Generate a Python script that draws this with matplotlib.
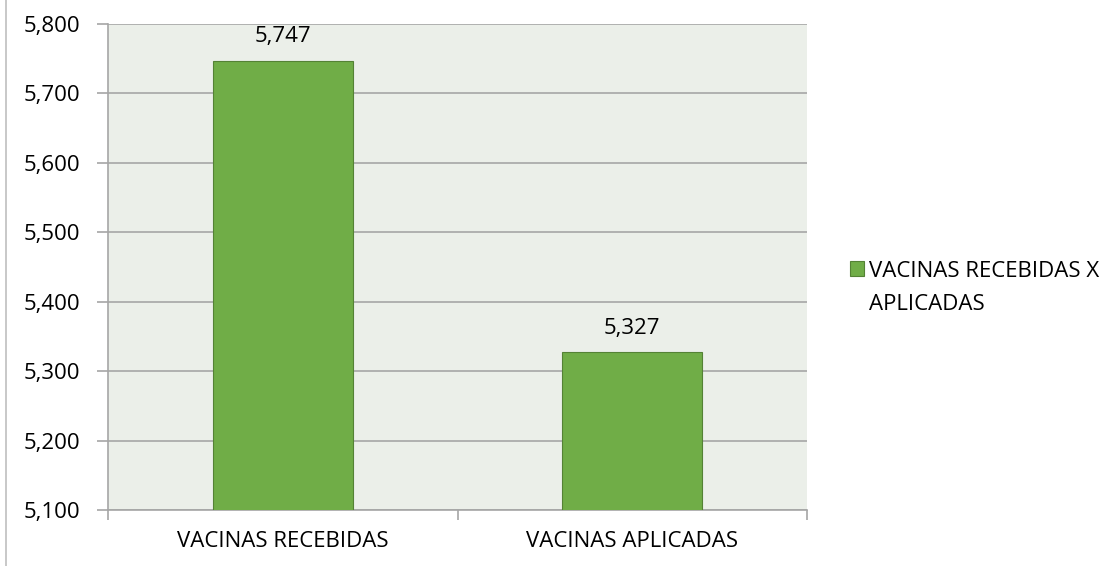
import numpy as np
import matplotlib.pyplot as plt
from matplotlib.ticker import FuncFormatter, FixedLocator
from matplotlib.lines import Line2D

categories = ['VACINAS RECEBIDAS', 'VACINAS APLICADAS']
values = [5747, 5327]
series_name = ['VACINAS RECEBIDAS X', 'APLICADAS']
yticks = [5100, 5200, 5300, 5400, 5500, 5600, 5700, 5800]

plt.rcParams['font.family'] = ['Open Sans', 'DejaVu Sans']
FS = 16

W, H = 1118, 566
fig = plt.figure(figsize=(W / 100, H / 100), dpi=100)
ax = fig.add_axes([108 / W, 1 - 510 / H, (807 - 108) / W, (510 - 24) / H])

bar_color = '#70AD47'
edge_color = '#548235'
grid_color = '#A6A6A6'

x = np.arange(len(categories))
bars = ax.bar(x, values, width=0.4, color=bar_color, edgecolor=edge_color, linewidth=0.8,
              label=series_name[0], zorder=3)

ax.set_facecolor('#EBEFE9')
ax.set_xlim(-0.5, len(categories) - 0.5)
ax.set_ylim(5100, 5800)
ax.set_yticks(yticks)
ax.yaxis.set_major_formatter(FuncFormatter(lambda v, p: f'{int(v):,}'))
ax.grid(axis='y', color=grid_color, linewidth=1.2, zorder=0)

# category labels centred, ticks between categories
ax.set_xticks(x)
ax.set_xticklabels(categories, fontsize=FS)
ax.tick_params(axis='x', length=0, pad=15)
ax.xaxis.set_minor_locator(FixedLocator([-0.5, 0.5, 1.5]))
ax.tick_params(axis='x', which='minor', length=7, color=grid_color, width=1.2)
ax.tick_params(axis='y', length=8, color=grid_color, width=1.2, labelsize=FS, pad=12)

for s in ['top', 'right']:
    ax.spines[s].set_visible(False)
ax.spines['left'].set_color(grid_color)
ax.spines['left'].set_linewidth(1.2)
ax.spines['bottom'].set_color(grid_color)
ax.spines['bottom'].set_linewidth(1.2)

for b, v in zip(bars, values):
    ax.annotate(f'{v:,}', (b.get_x() + b.get_width() / 2, v), xytext=(0, 10),
                textcoords='offset points', ha='center', va='bottom', fontsize=FS)

# legend: square aligned with the first line of the label, second line underneath
leg = fig.legend(loc='center left', bbox_to_anchor=(850 / W, 1 - 271 / H), frameon=False,
                 fontsize=FS, handlelength=0.65, handleheight=0.65, handletextpad=0.2,
                 borderaxespad=0, borderpad=0)
fig.canvas.draw()
t0 = leg.get_texts()[0].get_window_extent()
fig.text(t0.x0 / W, 1 - 310 / H, series_name[1], fontsize=FS, ha='left', va='baseline')

# left border of the chart frame
fig.add_artist(Line2D([6 / W, 6 / W], [0, 1], color='#BFBFBF', linewidth=1.2))

fig.savefig('out.png', dpi=100)
